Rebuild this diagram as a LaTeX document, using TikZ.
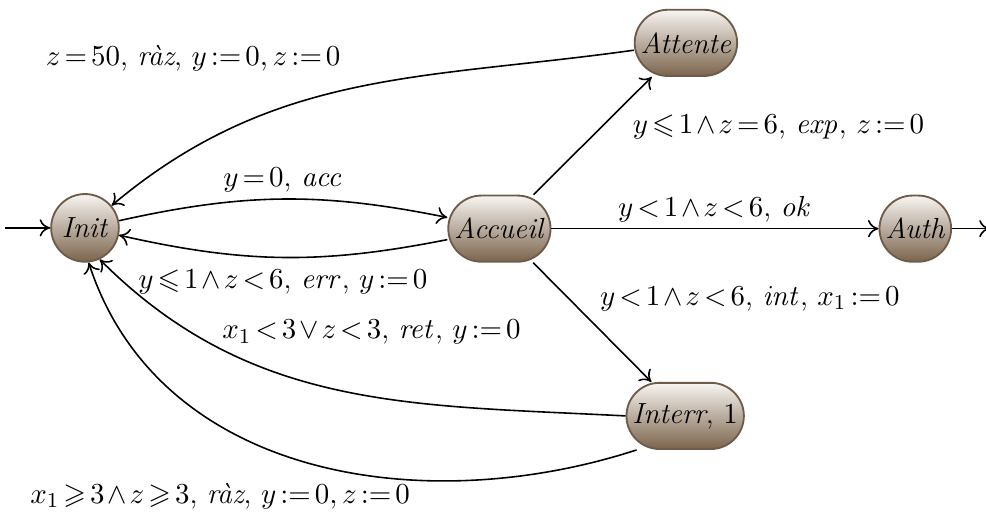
\documentclass[tikz,border=0pt]{standalone}
\usepackage{amsmath,amssymb}
\usepackage{tikz}
\usetikzlibrary{arrows.meta,positioning}
\definecolor{StateTop}{HTML}{F8F5F2}
\definecolor{StateBottom}{HTML}{7B644C}
\definecolor{StateEdge}{HTML}{6E5C4A}
\thickmuskip=2.5mu plus 2mu
\medmuskip=1.8mu plus 1mu
\tikzset{
  automaton/.style={>={Computer Modern Rightarrow[length=4pt,width=6.5pt]},
    font=\fontsize{11}{13}\selectfont},
  state/.style={draw=StateEdge,line width=0.7pt,top color=StateTop,bottom color=StateBottom,
    rounded corners=0.44cm,minimum height=0.88cm,minimum width=0.88cm,inner xsep=0.08cm},
  roundstate/.style={state,circle,minimum size=0.9cm,inner sep=0pt},
  trans/.style={->,semithick},
}

\begin{document}
\begin{tikzpicture}[automaton]
  \useasboundingbox (0,0) rectangle (13.11,6.86);

  % states
  \node[roundstate] (init) at (1.13,3.83) {\textit{Init}};
  \node[state] (accueil) at (6.64,3.82) {\textit{Accueil}};
  \node[state] (attente) at (9.12,6.29) {\textit{Attente}};
  \node[state] (interr) at (9.11,1.33) {\textit{Interr}, $1$};
  \node[state] (auth) at (12.17,3.82) {\textit{Auth}};
  \coordinate (start) at (0.07,3.83);
  \coordinate (exit) at (13.16,3.82);

  % transitions
  \draw[trans] (start) -- (init);
  \draw[trans] (init) to[bend left=12]
    node[above,yshift=-1pt] {$y=0$, $\mathit{acc}$} (accueil);
  \draw[trans] (accueil) to[bend left=12]
    node[below,yshift=-1pt] {$y\leqslant 1\wedge z<6$, $\mathit{err}$, $y:=0$} (init);
  \draw[trans] (accueil) -- node[pos=0.575,anchor=west,xshift=0.29cm]
    {$y\leqslant 1\wedge z=6$, $\mathit{exp}$, $z:=0$} (attente);
  \draw[trans] (accueil) -- node[midway,above,yshift=-1pt]
    {$y<1\wedge z<6$, $\mathit{ok}$} (auth);
  \draw[trans] (accueil) -- node[pos=0.3,anchor=west,xshift=0.29cm]
    {$y<1\wedge z<6$, $\mathit{int}$, $x_1:=0$} (interr);
  \draw[trans] (auth) -- (exit);
  \draw[trans] (attente) to[out=188,in=40]
    node[pos=0.55,anchor=south east,xshift=0.27cm,yshift=0.17cm] {$z=50$, \textit{ràz}, $y:=0,z:=0$} (init);
  \draw[trans] (interr.west) to[out=177,in=-45]
    node[pos=0.5,xshift=0.43cm,yshift=0.77cm] {$x_1<3\vee z<3$, $\mathit{ret}$, $y:=0$} (init.-65);
  \draw[trans] (interr.-145) to[out=198,in=-72]
    node[pos=0.5,xshift=-1.17cm,yshift=-0.44cm] {$x_1\geqslant 3\wedge z\geqslant 3$, \textit{ràz}, $y:=0,z:=0$} (init.-84);
\end{tikzpicture}
\end{document}
